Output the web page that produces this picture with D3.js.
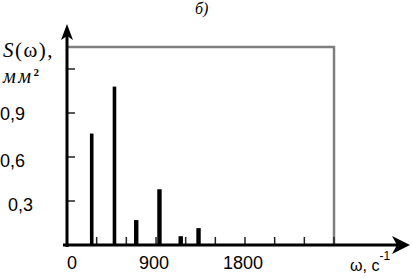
<!DOCTYPE html>
<html>
<head>
<meta charset="utf-8">
<script src="https://cdn.jsdelivr.net/npm/d3@7"></script>
<style>
  html, body { margin: 0; padding: 0; background: #fff; }
  svg { display: block; }
</style>
</head>
<body>
<div id="chart"></div>
<script>
// spectrum lines
var frequencies = [250, 480, 700, 935, 1150, 1330];
var amplitudes  = [0.76, 1.08, 0.17, 0.38, 0.06, 0.115];

var yTicks      = [0.3, 0.6, 0.9, 1.2];
var yTickLabels = ['0,3', '0,6', '0,9'];
var xTicks      = [300, 600, 900, 1200, 1500, 1800, 2100, 2400, 2700];
var xTickLabels = [0, 900, 1800];

var width = 412, height = 278;

var x = d3.scaleLinear().domain([0, 2700]).range([67, 334]);
var y = d3.scaleLinear().domain([0, 1.35]).range([245, 47]);

var svg = d3.select('#chart')
            .append('svg')
            .attr('width', width)
            .attr('height', height);

var serif = 'Liberation Serif, Times New Roman, serif',
    sans  = 'Liberation Sans, Arial, sans-serif';

// grey frame at the top and right
svg.append('path')
   .attr('d', 'M' + x(0) + ',' + y(1.35) + 'H' + x(2700) + 'V' + y(0))
   .attr('fill', 'none')
   .attr('stroke', '#7f7f7f')
   .attr('stroke-width', 2.5);

// spectrum bars
svg.selectAll('rect.bar')
   .data(frequencies)
   .enter()
   .append('rect')
   .attr('class', 'bar')
   .attr('x', function(d, i) { return x(d) - (i < 2 ? 1.8 : 2.2); })
   .attr('width', function(d, i) { return i < 2 ? 3.6 : 4.4; })
   .attr('y', function(d, i) { return y(amplitudes[i]); })
   .attr('height', function(d, i) { return y(0) - y(amplitudes[i]); })
   .attr('fill', '#000');

// x ticks point up from the axis
svg.selectAll('line.xtick')
   .data(xTicks)
   .enter()
   .append('line')
   .attr('x1', function(d) { return x(d); })
   .attr('x2', function(d) { return x(d); })
   .attr('y1', y(0))
   .attr('y2', y(0) - 8)
   .attr('stroke', '#222')
   .attr('stroke-width', 1.5);

// y ticks point right from the axis
svg.selectAll('line.ytick')
   .data(yTicks)
   .enter()
   .append('line')
   .attr('x1', x(0))
   .attr('x2', x(0) + 8)
   .attr('y1', function(d) { return y(d); })
   .attr('y2', function(d) { return y(d); })
   .attr('stroke', '#222')
   .attr('stroke-width', 1.5);

// axes with arrows
svg.append('line')
   .attr('x1', x(0)).attr('x2', x(0))
   .attr('y1', y(0) + 2).attr('y2', 34)
   .attr('stroke', '#000').attr('stroke-width', 3);
svg.append('path')
   .attr('d', 'M' + x(0) + ',24 L' + (x(0) - 6) + ',40 L' + x(0) + ',36 L' + (x(0) + 6) + ',40 Z')
   .attr('fill', '#000');

svg.append('line')
   .attr('x1', 63).attr('x2', 398)
   .attr('y1', y(0)).attr('y2', y(0))
   .attr('stroke', '#000').attr('stroke-width', 3);
svg.append('path')
   .attr('d', 'M410,' + y(0) + ' L392,' + (y(0) - 9) + ' L397,' + y(0) + ' L392,' + (y(0) + 9) + ' Z')
   .attr('fill', '#000');

// tick labels
svg.selectAll('text.ylab')
   .data(yTickLabels)
   .enter()
   .append('text')
   .attr('x', function(d, i) { return i === 0 ? 8 : 0; })
   .attr('y', function(d, i) { return y(yTicks[i]) + (i === 2 ? 7 : 10); })
   .attr('font-family', sans)
   .attr('font-size', 18)
   .attr('fill', '#000')
   .text(function(d) { return d; });

svg.selectAll('text.xlab')
   .data(xTickLabels)
   .enter()
   .append('text')
   .attr('x', function(d) { return d === 0 ? x(d) : x(d) - 2; })
   .attr('y', 269)
   .attr('text-anchor', function(d) { return d === 0 ? 'start' : 'middle'; })
   .attr('font-family', sans)
   .attr('font-size', 18)
   .attr('fill', '#000')
   .text(function(d) { return d; });

// titles
svg.append('text')
   .attr('x', 195).attr('y', 14)
   .attr('font-family', serif).attr('font-style', 'italic').attr('font-size', 16)
   .text('б)');

var sLab = svg.append('text')
   .attr('x', 3).attr('y', 57)
   .attr('font-family', serif).attr('font-size', 21)
   .attr('letter-spacing', 1.5);
sLab.append('tspan').attr('font-style', 'italic').text('S');
sLab.append('tspan').text('(ω),');

var mmLab = svg.append('text')
   .attr('x', 3).attr('y', 83)
   .attr('font-family', serif).attr('font-style', 'italic').attr('font-size', 20)
   .attr('letter-spacing', 2.5);
mmLab.append('tspan').text('мм');
mmLab.append('tspan').attr('font-size', 11).attr('font-weight', 'bold')
     .attr('dy', -7).attr('font-style', 'normal').text('2');

var wLab = svg.append('text')
   .attr('x', 350).attr('y', 271)
   .attr('font-family', sans).attr('font-size', 16);
wLab.append('tspan').text('ω, c');
wLab.append('tspan').attr('font-size', 12).attr('dy', -11).text('-1');
</script>
</body>
</html>
